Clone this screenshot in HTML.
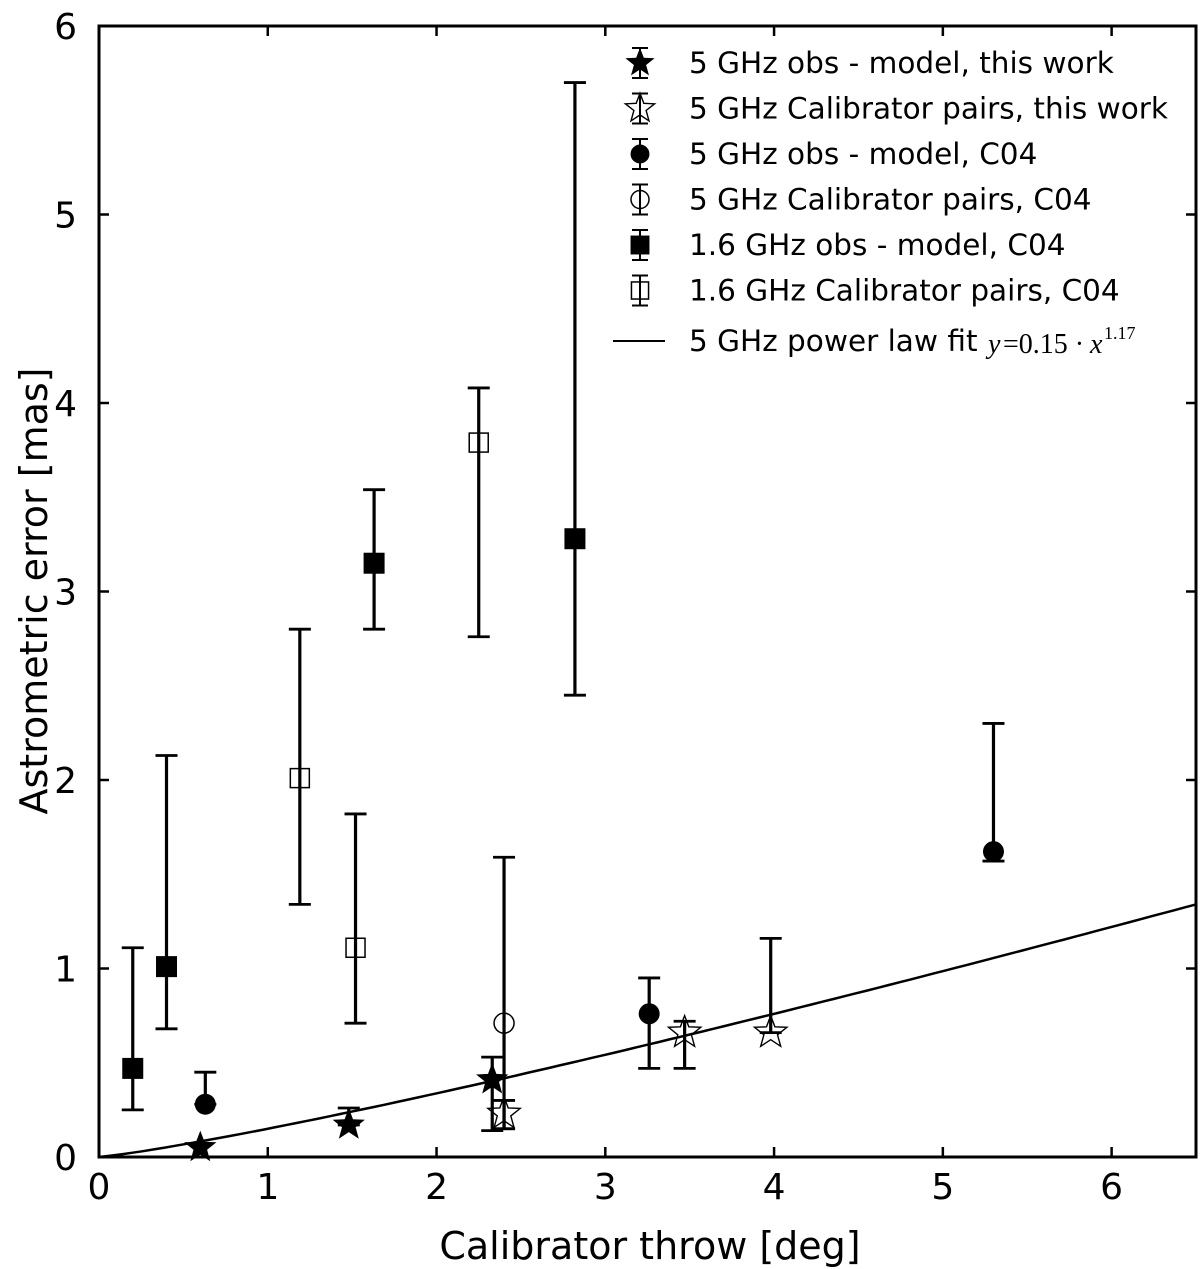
<!DOCTYPE html>
<html><head><meta charset="utf-8"><style>
html,body{margin:0;padding:0;background:#fff;}
svg{display:block;font-family:"DejaVu Sans","Liberation Sans",sans-serif;}
</style></head><body>
<svg id="chart" width="1200" height="1269" viewBox="0 0 1200 1269" xmlns="http://www.w3.org/2000/svg"></svg>
<script>
const xTicks=[0,1,2,3,4,5,6];
const yTicks=[0,1,2,3,4,5,6];
// [x, y, lowerErr, upperErr] in data units
const filledStars=[[0.60,0.05,0.05,0.05],[1.48,0.17,0.17,0.26],[2.33,0.41,0.14,0.53]];
const openStars=[[2.40,0.23,0.15,0.30],[3.47,0.66,0.47,0.72],[3.98,0.66,0.66,1.16]];
const filledCircles=[[0.63,0.28,0.28,0.45],[3.26,0.76,0.47,0.95],[5.30,1.62,1.57,2.30]];
const openCircles=[[2.40,0.71,0.15,1.59]];
const filledSquares=[[0.20,0.47,0.25,1.11],[0.40,1.01,0.68,2.13],[1.63,3.15,2.80,3.54],[2.82,3.28,2.45,5.70]];
const openSquares=[[1.19,2.01,1.34,2.80],[1.52,1.11,0.71,1.82],[2.25,3.79,2.76,4.08]];
const fitA=0.15, fitB=1.17;

const L=99,R=1196,T=26,B=1157,XMAX=6.5,YMAX=6;
const sx=v=>L+(R-L)*v/XMAX, sy=v=>B-(B-T)*v/YMAX;
const svg=document.getElementById('chart');
const NS='http://www.w3.org/2000/svg';
function mk(tag,attrs,parent){const e=document.createElementNS(NS,tag);for(const k in attrs)e.setAttribute(k,attrs[k]);(parent||svg).appendChild(e);return e;}
function starPts(cx,cy,r){let p=[];for(let i=0;i<10;i++){const a=-Math.PI/2+i*Math.PI/5;const rr=i%2?r*0.42:r;p.push((cx+rr*Math.cos(a)).toFixed(1)+','+(cy+rr*Math.sin(a)).toFixed(1));}return p.join(' ');}

let d='';for(let i=0;i<=100;i++){const x=XMAX*i/100;d+=(i?'L':'M')+sx(x).toFixed(1)+','+sy(fitA*Math.pow(x,fitB)).toFixed(1);}
let fl=mk('path',{d:d,fill:'none',stroke:'#000','stroke-width':2.5});



function errbar(g,x,lo,hi){
  mk('line',{x1:sx(x),x2:sx(x),y1:sy(lo),y2:sy(hi),stroke:'#000','stroke-width':3.2},g);
  [lo,hi].forEach(v=>mk('line',{x1:sx(x)-11,x2:sx(x)+11,y1:sy(v),y2:sy(v),stroke:'#000','stroke-width':2.8},g));
}
function marker(g,type,cx,cy,s){
  s=s||1;
  if(type==='fstar')mk('polygon',{points:starPts(cx,cy,17*s),fill:'#000'},g);
  if(type==='ostar')mk('polygon',{points:starPts(cx,cy,17*s),fill:'none',stroke:'#000','stroke-width':1.4},g);
  if(type==='fcirc')mk('circle',{cx,cy,r:10.5*s,fill:'#000'},g);
  if(type==='ocirc')mk('circle',{cx,cy,r:10*s,fill:'none',stroke:'#000','stroke-width':1.5},g);
  if(type==='fsq')mk('rect',{x:cx-10.5*s,y:cy-10.5*s,width:21*s,height:21*s,fill:'#000'},g);
  if(type==='osq')mk('rect',{x:cx-9.5*s,y:cy-9.5*s,width:19*s,height:19*s,fill:'none',stroke:'#000','stroke-width':1.5},g);
}
const series=[[filledSquares,'fsq','filled-square'],[openSquares,'osq','open-square'],[filledCircles,'fcirc','filled-circle'],[openCircles,'ocirc','open-circle'],[openStars,'ostar','open-star'],[filledStars,'fstar','filled-star']];
series.forEach(([arr,type,name])=>{
  arr.forEach((p,i)=>{
    const g=mk('g',{});
    
    
    if(p[3]>p[2])errbar(g,p[0],p[2],p[3]);
    marker(g,type,sx(p[0]),sy(p[1]));
  });
});

let fr=mk('rect',{x:L,y:T,width:R-L,height:B-T,fill:'none',stroke:'#000','stroke-width':3});


xTicks.forEach(v=>{
  const x=sx(v);
  mk('line',{x1:x,x2:x,y1:B,y2:B-10,stroke:'#000','stroke-width':2.5});
  mk('line',{x1:x,x2:x,y1:T,y2:T+10,stroke:'#000','stroke-width':2.5});
  const t=mk('text',{x:x,y:B+42,'font-size':36,'text-anchor':'middle'});t.textContent=v;
  
  
});
yTicks.forEach(v=>{
  const y=sy(v);
  mk('line',{x1:L,x2:L+10,y1:y,y2:y,stroke:'#000','stroke-width':2.5});
  mk('line',{x1:R,x2:R-10,y1:y,y2:y,stroke:'#000','stroke-width':2.5});
  const t=mk('text',{x:L-22,y:y+13,'font-size':36,'text-anchor':'end'});t.textContent=v;
  
  
});
let xl=mk('text',{x:650,y:1259,'font-size':38,'text-anchor':'middle'});xl.textContent='Calibrator throw [deg]';


let yl=mk('text',{x:0,y:0,'font-size':38,'text-anchor':'middle',transform:'translate(47,591) rotate(-90)'});yl.textContent='Astrometric error [mas]';



const legLabels=['5 GHz obs - model, this work','5 GHz Calibrator pairs, this work','5 GHz obs - model, C04','5 GHz Calibrator pairs, C04','1.6 GHz obs - model, C04','1.6 GHz Calibrator pairs, C04'];
const legTypes=['fstar','ostar','fcirc','ocirc','fsq','osq'];
legLabels.forEach((lab,i)=>{
  const y=63+i*45.5;
  const g=mk('g',{});
  
  
  const cx=640;
  mk('line',{x1:cx,x2:cx,y1:y-15,y2:y+15,stroke:'#000','stroke-width':2},g);
  [y-15,y+15].forEach(v=>mk('line',{x1:cx-8,x2:cx+8,y1:v,y2:v,stroke:'#000','stroke-width':2},g));
  marker(g,legTypes[i],cx,y,0.9);
  const t=mk('text',{x:689,y:y+10,'font-size':29.5},g);t.textContent=lab;
});
const g7=mk('g',{});


mk('line',{x1:613,x2:665,y1:341,y2:341,stroke:'#000','stroke-width':2},g7);
const t7=mk('text',{x:689,y:351,'font-size':29.5},g7);t7.textContent='5 GHz power law fit';
const t8=mk('text',{x:988,y:353,'font-size':28,'font-family':'Liberation Serif, serif','font-style':'italic'},g7);t8.textContent='y';
const t9=mk('text',{x:1003,y:353,'font-size':28,'font-family':'Liberation Serif, serif'},g7);t9.textContent='=0.15 ·';
const t10=mk('text',{x:1090,y:353,'font-size':28,'font-family':'Liberation Serif, serif','font-style':'italic'},g7);t10.textContent='x';
const t11=mk('text',{x:1104,y:339,'font-size':18,'font-family':'Liberation Serif, serif'},g7);t11.textContent='1.17';
</script>
</body></html>
